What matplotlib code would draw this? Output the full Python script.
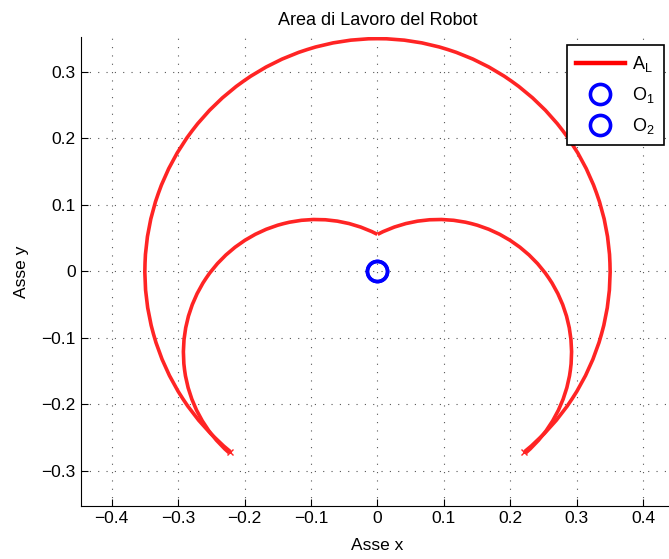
import numpy as np
import matplotlib
matplotlib.use('Agg')
import matplotlib.pyplot as plt
from matplotlib.patches import Arc

plt.rcParams['font.family'] = ['Liberation Sans', 'DejaVu Sans']
plt.rcParams['font.size'] = 12
plt.rcParams['mathtext.fontset'] = 'custom'
plt.rcParams['mathtext.rm'] = 'Liberation Sans'

# boundary arcs of the workspace: centre x, centre y, radius, start angle, end angle (deg)
arc_cx = [0.0, 0.092, -0.092]
arc_cy = [0.0, -0.122, -0.122]
arc_r = [0.35, 0.200, 0.200]
arc_t1 = [-50.8, -49.1, 62.7]
arc_t2 = [230.8, 117.3, 229.1]

# joint origins
o1_x, o1_y = [0.0], [0.0]
o2_x, o2_y = [0.0], [0.0]

xticks = [-0.4, -0.3, -0.2, -0.1, 0, 0.1, 0.2, 0.3, 0.4]
yticks = [-0.3, -0.2, -0.1, 0, 0.1, 0.2, 0.3]

red = '#ff2424'

fig = plt.figure(figsize=(6.69, 5.59), dpi=100)
ax = fig.add_axes([0.1206, 0.0953, 0.8873, 0.8385])

for cx, cy, r, t1, t2 in zip(arc_cx, arc_cy, arc_r, arc_t1, arc_t2):
    ax.add_patch(Arc((cx, cy), 2 * r, 2 * r, theta1=t1, theta2=t2,
                     color=red, lw=2.6, zorder=3))

# small x at the two cusps (end of the outer arc)
t = np.radians([arc_t1[0], arc_t2[0]])
ax.plot(arc_r[0] * np.cos(t), arc_r[0] * np.sin(t), 'x', color=red, ms=4, mew=1)

ax.plot([], [], '-', color='red', lw=3.2, label=r'A$_\mathrm{L}$')
ax.plot(o1_x, o1_y, 'o', mfc='none', mec='blue', ms=14.5, mew=2.6, label=r'O$_\mathrm{1}$', zorder=4)
ax.plot(o2_x, o2_y, 'o', mfc='none', mec='blue', ms=14.5, mew=2.6, label=r'O$_\mathrm{2}$', zorder=4)

ax.set_xlim(-0.4466, 0.4466)
ax.set_ylim(-0.3525, 0.3525)
ax.set_xticks(xticks)
ax.set_yticks(yticks)
ax.set_xticklabels([('\u2212' if v < 0 else '') + ('%g' % abs(v)) for v in xticks])
ax.set_yticklabels([('\u2212' if v < 0 else '') + ('%g' % abs(v)) for v in yticks])
ax.tick_params(direction='in', length=5, width=0.8, top=False, right=False, labelsize=12.5)
ax.spines['top'].set_visible(False)
ax.spines['right'].set_visible(False)
ax.grid(True, linestyle=(0, (1, 6.5)), color='#555555', lw=0.8)

ax.set_title('Area di Lavoro del Robot', pad=9, fontsize=13)
ax.set_xlabel('Asse x', labelpad=9, fontsize=12.5)
ax.set_ylabel('Asse y', labelpad=9, fontsize=12.5)

leg = ax.legend(loc='upper left', bbox_to_anchor=(567 / 669, 1 - 45 / 559),
                bbox_transform=fig.transFigure, fancybox=False, framealpha=1,
                edgecolor='black', handlelength=2.7, borderpad=0.5,
                labelspacing=0.62, handletextpad=0.4, borderaxespad=0,
                fontsize=13)
leg.get_frame().set_linewidth(1.2)

fig.savefig('out.png', dpi=100)
